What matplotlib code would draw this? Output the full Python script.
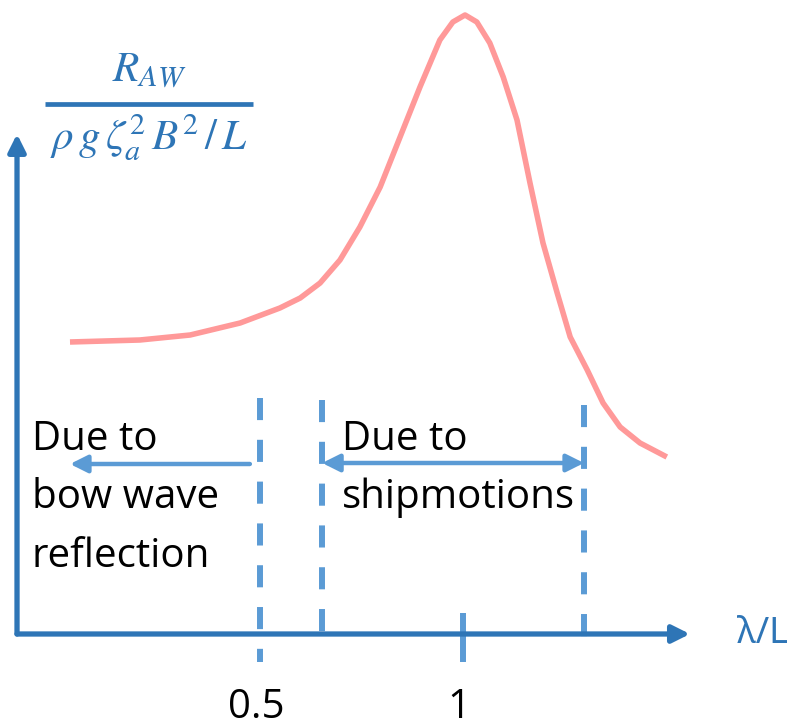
import matplotlib
matplotlib.use("Agg")
import matplotlib.pyplot as plt

# added wave resistance curve (x in lambda/L, y in arbitrary units)
curve_x = [0.032, 0.204, 0.328, 0.451, 0.549, 0.599, 0.648, 0.697, 0.746, 0.796,
           0.845, 0.894, 0.943, 0.975, 1.005, 1.034, 1.066, 1.099, 1.133, 1.165,
           1.197, 1.232, 1.264, 1.306, 1.345, 1.387, 1.436, 1.502]
curve_y = [2.92, 2.94, 2.99, 3.11, 3.26, 3.36, 3.51, 3.74, 4.07, 4.47,
           4.97, 5.47, 5.94, 6.12, 6.19, 6.12, 5.91, 5.57, 5.14, 4.51,
           3.91, 3.41, 2.97, 2.64, 2.31, 2.07, 1.91, 1.77]

# region boundaries (lambda/L)
bounds = [0.5, 0.653, 1.298]
bound_top = [2.36, 2.34, 2.29]
bound_bottom = [-0.28, -0.03, -0.06]
tick_vals = [0.5, 1]
tick_labels = ["0.5", "1"]

axis_blue = "#2E75B6"
dash_blue = "#5B9BD5"
pink = "#FF9999"

fig = plt.figure(figsize=(7.87, 7.27), dpi=100)
ax = fig.add_axes([0, 0, 1, 1])
ax.set_xlim(-0.1404, 1.798)
ax.set_ylim(-0.93, 6.34)
ax.axis("off")
plt.rcParams["mathtext.fontset"] = "stix"

# axes with arrows
x0 = -0.0985
ax.annotate("", xy=(1.559, 0), xytext=(x0, 0),
            arrowprops=dict(arrowstyle="-|>", color=axis_blue, lw=3.8,
                            mutation_scale=26, shrinkA=0, shrinkB=0))
ax.annotate("", xy=(x0, 5.00), xytext=(x0, 0),
            arrowprops=dict(arrowstyle="-|>", color=axis_blue, lw=3.8,
                            mutation_scale=26, shrinkA=0, shrinkB=0))

# curve
ax.plot(curve_x, curve_y, color=pink, lw=4, solid_capstyle="butt",
        solid_joinstyle="round")

# dashed region boundaries
for xb, yt, yb in zip(bounds, bound_top, bound_bottom):
    ax.plot([xb, xb], [yt, yb], color=dash_blue, lw=4.3,
            linestyle=(0, (3.7, 3.3)), dash_capstyle="butt")

# tick at 1
ax.plot([1, 1], [0.21, -0.28], color=dash_blue, lw=4.3, solid_capstyle="butt")

# region arrows
ax.annotate("", xy=(0.032, 1.70), xytext=(0.475, 1.70),
            arrowprops=dict(arrowstyle="-|>", color=dash_blue, lw=3.2,
                            mutation_scale=26, shrinkA=0, shrinkB=0))
ax.annotate("", xy=(0.653, 1.71), xytext=(1.298, 1.71),
            arrowprops=dict(arrowstyle="<|-|>", color=dash_blue, lw=3.2,
                            mutation_scale=26, shrinkA=0, shrinkB=0))

font = "Open Sans"
left_lines = ["Due to", "bow wave", "reflection"]
left_base = [1.84, 1.26, 0.67]
for s, yb in zip(left_lines, left_base):
    ax.text(-0.0625, yb, s, fontsize=29, family=font, color="black",
            ha="left", va="baseline")
right_lines = ["Due to", "shipmotions"]
for s, yb in zip(right_lines, left_base[:2]):
    ax.text(0.702, yb, s, fontsize=29, family=font, color="black",
            ha="left", va="baseline")

for tv, tl in zip(tick_vals, tick_labels):
    ax.text(tv - 0.01, -0.84, tl, fontsize=29, family=font, color="black",
            ha="center", va="baseline")

ax.text(1.675, 0.0, "λ/L", fontsize=26, family="Noto Sans", color=axis_blue,
        ha="left", va="center")

# y label as a fraction
ax.text(0.227, 5.52, r"$R_{AW}$", fontsize=31, color=axis_blue,
        ha="center", va="baseline")
ax.plot([-0.0296, 0.4828], [5.295, 5.295], color=axis_blue, lw=3.4,
        solid_capstyle="butt")
ax.text(0.227, 4.84, r"$\rho\,g\,\zeta_a^2\,B^2\,/\,L$", fontsize=31,
        color=axis_blue, ha="center", va="baseline")

fig.savefig("out.png", dpi=100)
